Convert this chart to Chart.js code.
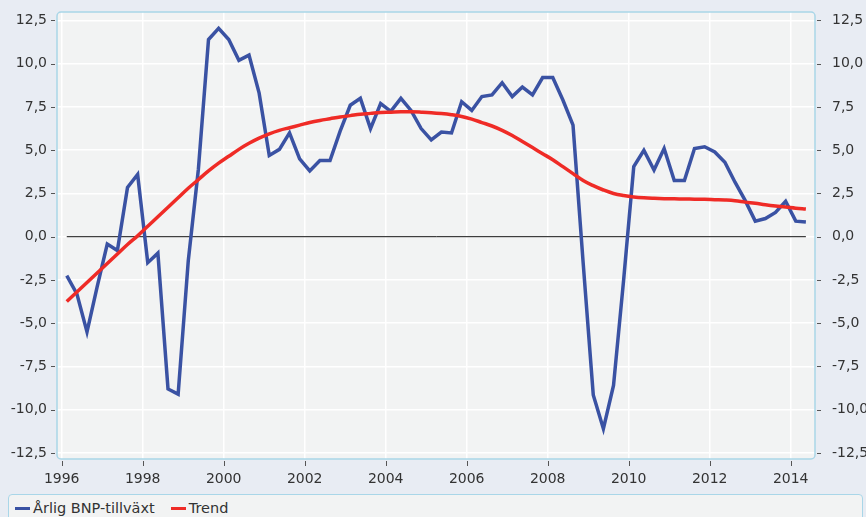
<!DOCTYPE html>
<html>
<head>
<meta charset="utf-8">
<script src="https://cdn.jsdelivr.net/npm/chart.js@4"></script>
<style>
  body { margin:0; background:#e8ecf3; font-family:"DejaVu Sans", sans-serif; }
  #wrap { position:relative; width:866px; height:517px; overflow:hidden; }
  #legend {
    position:absolute; left:8px; top:494px; width:855px; height:40px;
    box-sizing:border-box; border:1px solid #a9d6e8; border-radius:4px;
    background:#f2f3f3; padding-left:6px; font-size:14.5px; color:#333;
  }
  .item { display:inline-block; margin-right:16px; line-height:27px; }
  .swatch { display:inline-block; width:15px; height:3px; vertical-align:middle; margin-right:3px; position:relative; top:-1px; }
</style>
</head>
<body>
<div id="wrap">
  <canvas id="chart" width="866" height="517"></canvas>
  <div id="legend"></div>
</div>
<script>
const quarters = [
"1996K1","1996K2","1996K3","1996K4","1997K1","1997K2","1997K3","1997K4",
"1998K1","1998K2","1998K3","1998K4","1999K1","1999K2","1999K3","1999K4",
"2000K1","2000K2","2000K3","2000K4","2001K1","2001K2","2001K3","2001K4",
"2002K1","2002K2","2002K3","2002K4","2003K1","2003K2","2003K3","2003K4",
"2004K1","2004K2","2004K3","2004K4","2005K1","2005K2","2005K3","2005K4",
"2006K1","2006K2","2006K3","2006K4","2007K1","2007K2","2007K3","2007K4",
"2008K1","2008K2","2008K3","2008K4","2009K1","2009K2","2009K3","2009K4",
"2010K1","2010K2","2010K3","2010K4","2011K1","2011K2","2011K3","2011K4",
"2012K1","2012K2","2012K3","2012K4","2013K1","2013K2","2013K3","2013K4",
"2014K1","2014K2"
];

const gdpGrowth = [
-2.25,-3.3,-5.5,-2.9,-0.42,-0.8,2.85,3.6,-1.5,-0.95,
-8.8,-9.1,-1.4,3.9,11.4,12.05,11.4,10.2,10.5,8.3,
4.7,5.05,6.0,4.5,3.8,4.4,4.4,6.1,7.6,8.0,
6.25,7.7,7.25,8.0,7.3,6.25,5.6,6.05,6.0,7.8,
7.3,8.1,8.2,8.9,8.1,8.65,8.2,9.2,9.2,7.9,
6.45,-1.5,-9.15,-11.1,-8.6,-2.5,4.05,5.0,3.85,5.1,
3.25,3.25,5.1,5.2,4.9,4.3,3.15,2.1,0.9,1.05,
1.4,2.05,0.9,0.85
];

const trend = [
-3.75,-3.2,-2.65,-2.1,-1.55,-1.0,-0.45,0.05,0.6,1.15,
1.7,2.25,2.8,3.3,3.8,4.25,4.65,5.05,5.4,5.7,
5.95,6.15,6.3,6.45,6.6,6.72,6.82,6.92,7.0,7.08,
7.13,7.18,7.2,7.22,7.22,7.2,7.17,7.12,7.05,6.95,
6.8,6.6,6.4,6.15,5.85,5.5,5.15,4.8,4.45,4.05,
3.65,3.25,2.95,2.7,2.5,2.38,2.3,2.25,2.22,2.2,
2.19,2.18,2.17,2.16,2.14,2.12,2.08,2.0,1.93,1.85,
1.78,1.72,1.65,1.6
];

const zeroLine = [0, 0];

const yearTicks = [1996,1998,2000,2002,2004,2006,2008,2010,2012,2014];
const valueTicks = [-12.5,-10,-7.5,-5,-2.5,0,2.5,5,7.5,10,12.5];

const seriesNames = ["Årlig BNP-tillväxt", "Trend"];
const seriesColors = ["#3a52a3", "#ef2b26"];

function toYear(q){
  return parseInt(q.slice(0,4)) + (parseInt(q.slice(5)) - 1) / 4 + 0.125;
}

function fmt(v){
  return v.toFixed(1).replace(".", ",");
}

const font = { family:"DejaVu Sans", size:14 };

const plotFrame = {
  id:"plotFrame",
  beforeDraw(chart){
    const {ctx, chartArea:a} = chart;
    ctx.save();
    ctx.fillStyle = "#f2f3f3";
    ctx.beginPath();
    ctx.roundRect(a.left, a.top, a.right - a.left, a.bottom - a.top, 4);
    ctx.fill();
    ctx.restore();
  },
  afterDraw(chart){
    const {ctx, chartArea:a} = chart;
    ctx.save();
    ctx.strokeStyle = "#a9d6e8";
    ctx.lineWidth = 1.5;
    ctx.beginPath();
    ctx.roundRect(a.left, a.top, a.right - a.left, a.bottom - a.top, 4);
    ctx.stroke();
    // small tick dashes outside the frame
    ctx.strokeStyle = "#555";
    ctx.lineWidth = 1;
    const y = chart.scales.y, x = chart.scales.x;
    valueTicks.forEach(v => {
      const py = Math.round(y.getPixelForValue(v)) + 0.5;
      ctx.beginPath();
      ctx.moveTo(a.left - 6, py); ctx.lineTo(a.left - 2, py);
      ctx.moveTo(a.right + 2, py); ctx.lineTo(a.right + 6, py);
      ctx.stroke();
    });
    yearTicks.forEach(v => {
      const px = Math.round(x.getPixelForValue(v)) + 0.5;
      ctx.beginPath();
      ctx.moveTo(px, a.bottom + 2); ctx.lineTo(px, a.bottom + 7);
      ctx.stroke();
    });
    ctx.restore();
  }
};

function fitY(width){
  return s => { s.width = width; s.paddingTop = 0; s.paddingBottom = 0; };
}

new Chart(document.getElementById("chart"), {
  type:"line",
  data:{
    datasets:[
      {
        label:seriesNames[0],
        data:quarters.map((q,i) => ({x:toYear(q), y:gdpGrowth[i]})),
        borderColor:seriesColors[0], backgroundColor:seriesColors[0],
        borderWidth:3.5, pointRadius:0, tension:0, order:2
      },
      {
        label:seriesNames[1],
        data:quarters.map((q,i) => ({x:toYear(q), y:trend[i]})),
        borderColor:seriesColors[1], backgroundColor:seriesColors[1],
        borderWidth:3.5, pointRadius:0, tension:0.4, order:1
      },
      {
        label:"zero",
        data:[{x:toYear(quarters[0]), y:zeroLine[0]}, {x:toYear(quarters[quarters.length-1]), y:zeroLine[1]}],
        borderColor:"#111", borderWidth:1, pointRadius:0, order:3
      }
    ]
  },
  options:{
    responsive:false,
    animation:false,
    layout:{ padding:{ top:12, bottom:28, left:0, right:0 } },
    plugins:{ legend:{ display:false }, tooltip:{ enabled:false } },
    scales:{
      x:{
        type:"linear", min:1995.884, max:2014.6,
        afterBuildTicks:s => { s.ticks = yearTicks.map(v => ({value:v})); },
        afterFit:s => { s.height = 30; s.paddingLeft = 0; s.paddingRight = 0; },
        grid:{ color:"#ffffff", lineWidth:1.5, drawTicks:false },
        border:{ display:false },
        ticks:{ font, color:"#333", padding:12, maxRotation:0, callback:v => String(v) }
      },
      y:{
        min:-12.85, max:12.99,
        afterBuildTicks:s => { s.ticks = valueTicks.map(v => ({value:v})); },
        afterFit:fitY(57),
        grid:{ color:"#ffffff", lineWidth:1.5, drawTicks:false },
        border:{ display:false },
        ticks:{ font, color:"#333", padding:10, callback:v => fmt(v) }
      },
      y2:{
        position:"right",
        min:-12.85, max:12.99,
        afterBuildTicks:s => { s.ticks = valueTicks.map(v => ({value:v})); },
        afterFit:fitY(51),
        grid:{ drawOnChartArea:false, drawTicks:false },
        border:{ display:false },
        ticks:{ font, color:"#333", padding:17, callback:v => fmt(v) }
      }
    }
  },
  plugins:[plotFrame]
});

const legend = document.getElementById("legend");
seriesNames.forEach((name, i) => {
  const item = document.createElement("span");
  item.className = "item";
  const sw = document.createElement("span");
  sw.className = "swatch";
  sw.style.background = seriesColors[i];
  item.appendChild(sw);
  item.appendChild(document.createTextNode(name));
  legend.appendChild(item);
});
</script>
</body>
</html>
